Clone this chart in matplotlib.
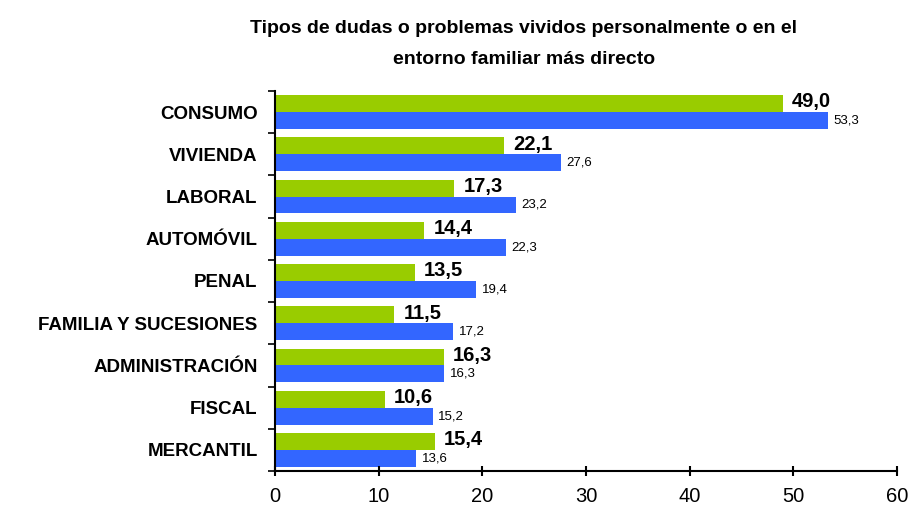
import matplotlib
matplotlib.use("Agg")
import matplotlib.pyplot as plt
import numpy as np

categories = ["CONSUMO", "VIVIENDA", "LABORAL", "AUTOMÓVIL", "PENAL",
              "FAMILIA Y SUCESIONES", "ADMINISTRACIÓN", "FISCAL", "MERCANTIL"]
green_vals = [49.0, 22.1, 17.3, 14.4, 13.5, 11.5, 16.3, 10.6, 15.4]
blue_vals = [53.3, 27.6, 23.2, 22.3, 19.4, 17.2, 16.3, 15.2, 13.6]
xticks = [0, 10, 20, 30, 40, 50, 60]

plt.rcParams['font.family'] = ['Liberation Sans', 'DejaVu Sans']

fig = plt.figure(figsize=(9.11, 5.09), dpi=100)
ax = fig.add_axes([0.3019, 0.0747, 0.6827, 0.7465])

y = np.arange(len(categories))
h = 0.4
ax.barh(y - h/2, green_vals, height=h, color="#99CC00")
ax.barh(y + h/2, blue_vals, height=h, color="#3366FF")

def fmt(v):
    return f"{v:.1f}".replace(".", ",")

for yi, g, b in zip(y, green_vals, blue_vals):
    ax.annotate(fmt(g), (g, yi - h/2 - 0.04), xytext=(6.5, 0),
                textcoords="offset points", va="center", ha="left",
                fontsize=14.5, fontweight="bold")
    ax.annotate(fmt(b), (b, yi + h/2), xytext=(4, 0),
                textcoords="offset points", va="center", ha="left",
                fontsize=9.5)

ax.set_xlim(0, 60)
ax.set_ylim(len(categories) - 0.5, -0.5)
ax.set_xticks(xticks)
ax.set_xticklabels([str(t) for t in xticks], fontsize=14.5)
ax.set_yticks(y)
ax.set_yticklabels(categories, fontsize=13.5, fontweight="bold")
ax.set_yticks(np.arange(len(categories) + 1) - 0.5, minor=True)
ax.tick_params(axis="y", which="major", length=0, pad=12.5)
ax.tick_params(axis="y", which="minor", length=5, width=1.2, direction="out")
ax.tick_params(axis="x", which="major", length=7, width=1.5, direction="inout", pad=8)

for s in ["top", "right"]:
    ax.spines[s].set_visible(False)
for s in ["left", "bottom"]:
    ax.spines[s].set_linewidth(1.5)

fig.text(0.575, 0.935, "Tipos de dudas o problemas vividos personalmente o en el",
         ha="center", va="baseline", fontsize=14, fontweight="bold")
fig.text(0.575, 0.874, "entorno familiar más directo",
         ha="center", va="baseline", fontsize=14, fontweight="bold")

fig.savefig("out.png", dpi=100)
